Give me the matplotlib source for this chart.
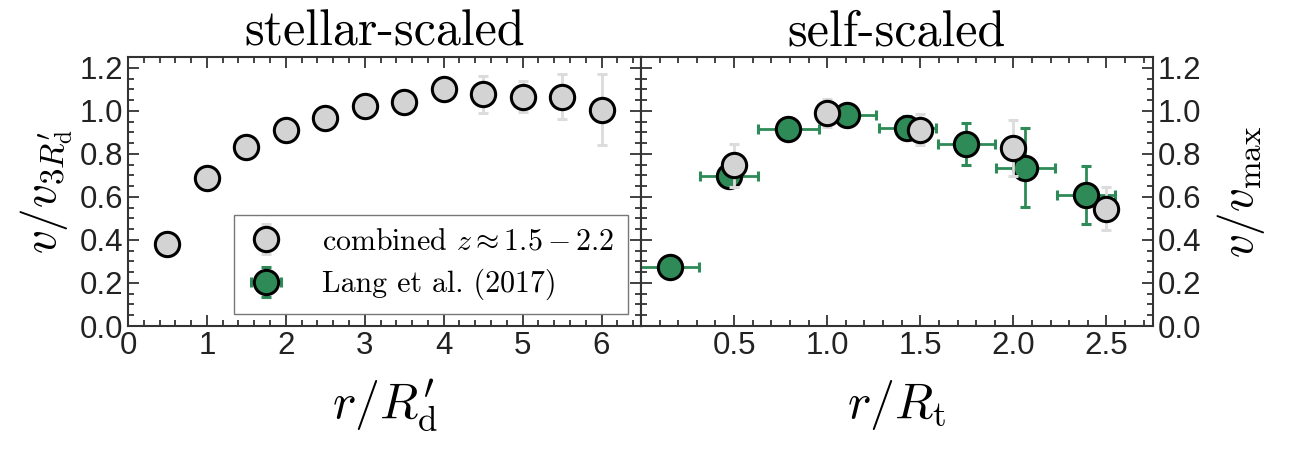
import matplotlib
matplotlib.use("Agg")
import matplotlib.pyplot as plt
from matplotlib.ticker import MultipleLocator

plt.rcParams['mathtext.fontset'] = 'cm'
plt.rcParams['font.family'] = ['Liberation Sans', 'DejaVu Sans']
plt.rcParams['axes.unicode_minus'] = False

# stellar-scaled (left panel), combined sample
stellar_r = [0.5, 1.0, 1.5, 2.0, 2.5, 3.0, 3.5, 4.0, 4.5, 5.0, 5.5, 6.0]
stellar_v = [0.382, 0.689, 0.831, 0.911, 0.966, 1.023, 1.042, 1.100, 1.077, 1.066, 1.066, 1.005]
stellar_err = [0.03, 0.03, 0.03, 0.03, 0.03, 0.03, 0.03, 0.03, 0.087, 0.071, 0.103, 0.166]

# self-scaled (right panel), combined sample
self_r = [0.5, 1.0, 1.5, 2.0, 2.5]
self_v = [0.746, 0.992, 0.911, 0.828, 0.546]
self_err = [0.102, 0.065, 0.072, 0.129, 0.102]

# Lang et al. (2017)
lang_r = [0.154, 0.473, 0.791, 1.105, 1.430, 1.748, 2.064, 2.389]
lang_v = [0.272, 0.695, 0.915, 0.980, 0.922, 0.846, 0.735, 0.608]
lang_xerr = [0.158, 0.155, 0.163, 0.157, 0.152, 0.153, 0.157, 0.155]
lang_yerr = [0.02, 0.02, 0.02, 0.02, 0.054, 0.097, 0.184, 0.136]

left_xticks = [0, 1, 2, 3, 4, 5, 6]
right_xticks = [0.5, 1.0, 1.5, 2.0, 2.5]
yticks = [0.0, 0.2, 0.4, 0.6, 0.8, 1.0, 1.2]

green = '#2e8b57'
gray_face = '#d3d3d3'
gray_err = '#dcdcdc'

fig = plt.figure(figsize=(12.96, 4.51), dpi=100)
axL = fig.add_axes([128/1296, 1-326/451, 513/1296, 269/451])
axR = fig.add_axes([641/1296, 1-326/451, 512/1296, 269/451])

ms = 17.5
mew = 2.2

def style(ax, right=False):
    ax.tick_params(which='both', direction='in', top=True, right=True, left=True,
                   bottom=True, labelsize=22.5, color='#333333', width=1.3,
                   labelcolor='#222222')
    ax.tick_params(which='major', length=8)
    ax.tick_params(which='minor', length=4)
    for s in ax.spines.values():
        s.set_linewidth(1.5)
        s.set_color('#333333')
    ax.set_ylim(0, 1.25)
    ax.set_yticks(yticks)
    ax.yaxis.set_minor_locator(MultipleLocator(0.05))
    if right:
        ax.yaxis.tick_right()
        ax.tick_params(which='both', left=True, labelleft=False, labelright=True)
        ax.yaxis.set_label_position('right')

style(axL)
style(axR, right=True)

# left panel
h1 = axL.errorbar(stellar_r, stellar_v, yerr=stellar_err, fmt='o', ms=ms,
                  mfc=gray_face, mec='black', mew=mew, ecolor=gray_err,
                  elinewidth=2, capsize=3.5, capthick=2, zorder=3,
                  label=r'combined $z\approx 1.5-2.2$')
axL.set_xlim(0, 6.5)
axL.set_xticks(left_xticks)
axL.xaxis.set_minor_locator(MultipleLocator(0.2))
axL.set_xlabel(r"$r/R_{\rm d}^{\prime}$", fontsize=36, labelpad=12)
axL.set_ylabel(r"$v/v_{3R_{\rm d}^{\prime}}$", fontsize=34, labelpad=4)
axL.set_title('stellar-scaled', family='cmr10', fontsize=36, pad=8)

# right panel
h2 = axR.errorbar(lang_r, lang_v, xerr=lang_xerr, yerr=lang_yerr, fmt='o', ms=ms,
                  mfc=green, mec='black', mew=mew, ecolor=green, elinewidth=2,
                  capsize=3.5, capthick=2, zorder=2, label='Lang et al. (2017)')
axR.errorbar(self_r, self_v, yerr=self_err, fmt='o', ms=ms, mfc=gray_face,
             mec='black', mew=mew, ecolor=gray_err, elinewidth=2, capsize=3.5,
             capthick=2, zorder=3)
axR.set_xlim(0, 2.75)
axR.set_xticks(right_xticks)
axR.xaxis.set_minor_locator(MultipleLocator(0.1))
axR.set_xlabel(r"$r/R_{\rm t}$", fontsize=36, labelpad=12)
axR.set_ylabel(r"$v/v_{\rm max}$", fontsize=34, labelpad=10)
axR.set_title('self-scaled', family='cmr10', fontsize=36, pad=8)

leg = axL.legend(handles=[h1, h2], loc='lower right', bbox_to_anchor=(0.975, 0.045),
                 borderaxespad=0, fancybox=False, edgecolor='#777777', framealpha=1,
                 prop={'family': 'cmr10', 'size': 21.5}, handletextpad=1.3,
                 borderpad=0.45, labelspacing=0.45, handlelength=1.2)
leg.get_frame().set_linewidth(1.0)

fig.savefig('out.png', dpi=100)
